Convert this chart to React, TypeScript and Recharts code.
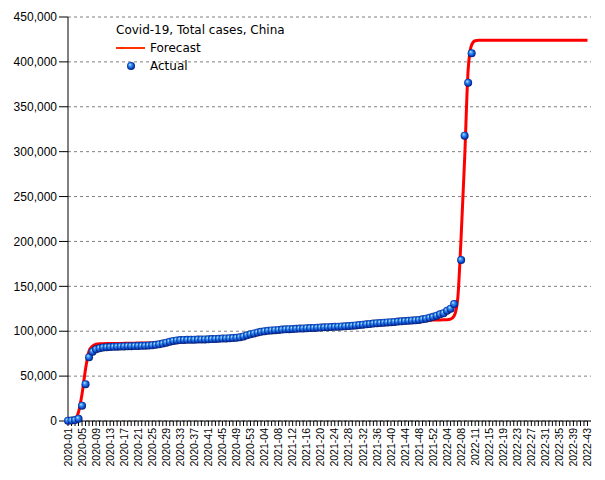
import { ComposedChart, Line, XAxis, YAxis, CartesianGrid } from 'recharts';

// one label every 4 weeks, week index 0..148
const WEEK_LABELS = [
  '2020-01', '2020-05', '2020-09', '2020-13', '2020-17', '2020-21', '2020-25', '2020-29', '2020-33', '2020-37',
  '2020-41', '2020-45', '2020-49', '2020-53', '2021-04', '2021-08', '2021-12', '2021-16', '2021-20', '2021-24',
  '2021-28', '2021-32', '2021-36', '2021-40', '2021-44', '2021-48', '2021-52', '2022-04', '2022-08', '2022-11',
  '2022-15', '2022-19', '2022-23', '2022-27', '2022-31', '2022-35', '2022-39', '2022-43',
];

const Y_TICKS = [0, 50000, 100000, 150000, 200000, 250000, 300000, 350000, 400000, 450000];

// weekly forecast, total cases
const FORECAST = [
  200, 600, 2000, 10000, 30000, 58000, 78000, 83500, 85500, 86000,
  86100, 86200, 86300, 86300, 86400, 86400, 86500, 86600, 86700, 86700,
  86800, 86800, 86900, 86900, 87000, 87100, 87300, 87700, 88200, 88700,
  89100, 89400, 89600, 89800, 90000, 90200, 90400, 90600, 90800, 91000,
  91200, 91400, 91600, 91800, 92000, 92300, 92600, 92900, 93300, 93800,
  94500, 95300, 96100, 96900, 97600, 98200, 98800, 99300, 99800, 100200,
  100600, 101000, 101400, 101800, 102200, 102600, 103000, 103400, 103700, 104000,
  104300, 104600, 104900, 105200, 105500, 105800, 106100, 106400, 106700, 107000,
  107200, 107500, 107700, 108000, 108200, 108500, 108700, 108900, 109100, 109400,
  109600, 109800, 110000, 110300, 110500, 110700, 110900, 111100, 111300, 111500,
  111700, 111900, 112100, 112200, 112400, 112500, 112600, 112700, 112800, 113500,
  117000, 135000, 205000, 292000, 391000, 419000, 423500, 424000, 424000, 424000,
  424000, 424000, 424000, 424000, 424000, 424000, 424000, 424000, 424000, 424000,
  424000, 424000, 424000, 424000, 424000, 424000, 424000, 424000, 424000, 424000,
  424000, 424000, 424000, 424000, 424000, 424000, 424000, 424000, 424000,
];

// weekly reported totals
const ACTUAL: (number | null)[] = [
  300, 500, 1000, 2500, 17000, 41000, 71000, 77200, 79800, 81000,
  81800, 82200, 82400, 82600, 82800, 83000, 83100, 83300, 83400, 83500,
  83600, 83700, 83800, 84000, 84300, 84800, 85400, 86200, 87200, 88200,
  89200, 89800, 90100, 90300, 90400, 90500, 90600, 90700, 90800, 90900,
  91000, 91200, 91400, 91600, 91800, 92000, 92200, 92400, 92700, 93200,
  94200, 95500, 96600, 97600, 98500, 99300, 100000, 100500, 100900, 101200,
  101500, 101800, 102100, 102300, 102500, 102700, 102900, 103100, 103300, 103500,
  103700, 103900, 104100, 104300, 104500, 104700, 104900, 105100, 105300, 105500,
  105800, 106100, 106500, 106900, 107300, 107700, 108100, 108500, 108900, 109200,
  109500, 109800, 110100, 110400, 110700, 111000, 111300, 111600, 111900, 112200,
  112600, 113200, 114000, 115000, 116000, 117300, 118800, 120000, 122900, 125100,
  130300, null, 179300, 317800, 376800, 409600,
];

const data = FORECAST.map((f, i) => ({
  week: i,
  forecast: f,
  actual: i < ACTUAL.length ? ACTUAL[i] : null,
}));

const weekTicks = FORECAST.map((_, i) => i);

const AXIS_FONT = '"Liberation Sans", Arial, sans-serif';

function WeekTick(props: any) {
  const { x, y, payload } = props;
  const v = payload.value;
  if (v % 4 !== 0) return null;
  const label = WEEK_LABELS[v / 4];
  return (
    <text
      x={x}
      y={y}
      dy="0.35em"
      textAnchor="end"
      transform={`rotate(-90, ${x}, ${y})`}
      fontSize={10.5}
      fontFamily={AXIS_FONT}
      fill="#000"
    >
      {label}
    </text>
  );
}

function Ball(props: any) {
  const { cx, cy, index } = props;
  if (cx == null || cy == null || isNaN(cy)) return null;
  return <circle key={index} cx={cx} cy={cy} r={4} fill="url(#ball)" />;
}

export default function App() {
  return (
    <div style={{ position: 'absolute', left: 0, top: 0, width: 605, height: 480, background: '#fff' }}>
      <svg width={0} height={0} style={{ position: 'absolute' }}>
        <defs>
          <radialGradient id="ball" cx="50%" cy="50%" r="55%" fx="35%" fy="30%">
            <stop offset="0%" stopColor="#c8ecff" />
            <stop offset="30%" stopColor="#3d9cf5" />
            <stop offset="70%" stopColor="#0b46c8" />
            <stop offset="100%" stopColor="#000a50" />
          </radialGradient>
        </defs>
      </svg>
      <ComposedChart
        width={605}
        height={480}
        data={data}
        margin={{ top: 17, right: 14, bottom: 0, left: 7 }}
      >
        <CartesianGrid vertical={false} stroke="#808080" strokeDasharray="3 3" />
        <XAxis
          type="number"
          dataKey="week"
          domain={[0, 149]}
          ticks={weekTicks}
          interval={0}
          tick={<WeekTick />}
          tickSize={5}
          tickMargin={2}
          height={59}
          stroke="#000"
          axisLine={{ stroke: '#000' }}
          tickLine={{ stroke: '#000' }}
        />
        <YAxis
          type="number"
          domain={[0, 450000]}
          ticks={Y_TICKS}
          interval={0}
          width={61}
          tickSize={9}
          tickMargin={2}
          tickFormatter={(v: number) => v.toLocaleString('en-US')}
          tick={{ fontSize: 12, fontFamily: AXIS_FONT, fill: '#000' }}
          axisLine={{ stroke: '#000' }}
          tickLine={{ stroke: '#000' }}
        />
        <Line
          dataKey="actual"
          stroke="none"
          dot={<Ball />}
          activeDot={false}
          connectNulls={false}
          isAnimationActive={false}
        />
        <Line
          dataKey="forecast"
          type="monotone"
          stroke="#ff0000"
          strokeWidth={3}
          dot={false}
          activeDot={false}
          isAnimationActive={false}
        />
      </ComposedChart>
      <div
        style={{
          position: 'absolute',
          left: 116,
          top: 22,
          fontFamily: '"DejaVu Sans", sans-serif',
          fontSize: 12,
          color: '#000',
          lineHeight: '16px',
        }}
      >
        <div>Covid-19, Total cases, China</div>
        <div style={{ position: 'absolute', top: 18, left: 0, display: 'flex', alignItems: 'center', whiteSpace: 'nowrap' }}>
          <svg width={34} height={16}>
            <line x1={0} y1={8} x2={29} y2={8} stroke="#ff3300" strokeWidth={2} />
          </svg>
          <span>Forecast</span>
        </div>
        <div style={{ position: 'absolute', top: 36, left: 0, display: 'flex', alignItems: 'center', whiteSpace: 'nowrap' }}>
          <svg width={34} height={16}>
            <circle cx={15} cy={8} r={4} fill="url(#ball)" />
          </svg>
          <span>Actual</span>
        </div>
      </div>
    </div>
  );
}
